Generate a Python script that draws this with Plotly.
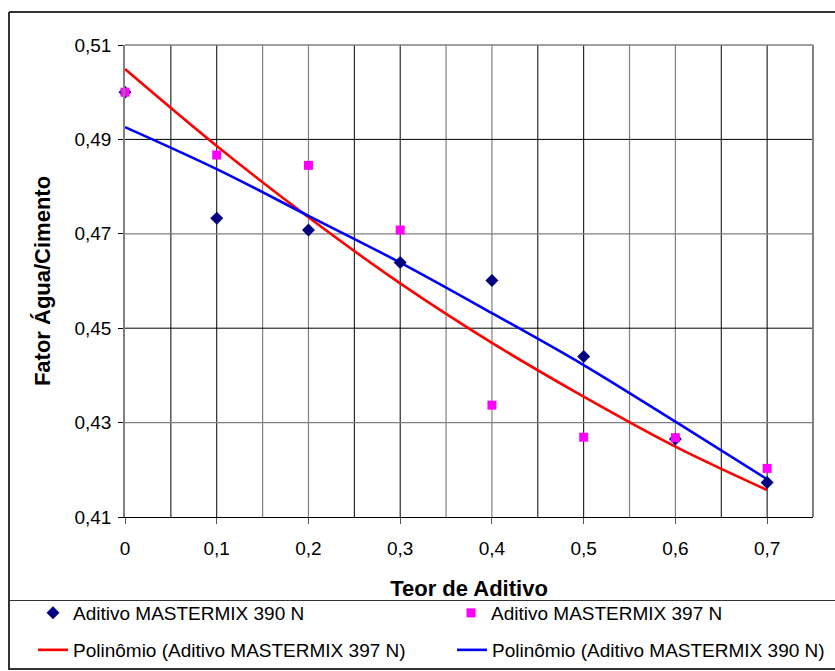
import plotly.graph_objects as go

# ---- data ----
teor = [0, 0.1, 0.2, 0.3, 0.4, 0.5, 0.6, 0.7]
fator_390 = [0.5000, 0.4733, 0.4708, 0.4639, 0.4601, 0.4440, 0.4265, 0.4173]
fator_397 = [0.5000, 0.4867, 0.4845, 0.4708, 0.4337, 0.4269, 0.4268, 0.4203]
# trendline values
poly_397 = [0.5049, 0.4886, 0.4735, 0.4595, 0.4469, 0.4355, 0.4249, 0.4157]
poly_390 = [0.4926, 0.4837, 0.4738, 0.4639, 0.4532, 0.4422, 0.4302, 0.4180]

x_tickvals = [0, 0.1, 0.2, 0.3, 0.4, 0.5, 0.6, 0.7]
x_ticktext = ["0", "0,1", "0,2", "0,3", "0,4", "0,5", "0,6", "0,7"]
y_tickvals = [0.41, 0.43, 0.45, 0.47, 0.49, 0.51]
y_ticktext = ["0,41", "0,43", "0,45", "0,47", "0,49", "0,51"]

grid_x_black = [0.05, 0.1, 0.25, 0.3, 0.45, 0.5, 0.65, 0.7]
grid_x_grey = [0.15, 0.2, 0.35, 0.4, 0.55, 0.6]
grid_y_black = [0.45, 0.49]
grid_y_grey = [0.43, 0.47]

name_390 = "Aditivo MASTERMIX 390 N"
name_397 = "Aditivo MASTERMIX 397 N"
name_p397 = "Polinômio (Aditivo MASTERMIX 397 N)"
name_p390 = "Polinômio (Aditivo MASTERMIX 390 N)"

FONT = "Arial, 'Liberation Sans', sans-serif"
W, H = 835, 671
L, R, T, B = 125, 813, 45, 517

def px(xp):
    return (xp - L) / (R - L)

def py(yp):
    return (B - yp) / (B - T)

fig = go.Figure()

fig.add_trace(go.Scatter(x=teor, y=poly_397, mode="lines", name=name_p397,
                         line=dict(color="#FF0000", width=2.6, shape="spline"),
                         legend="legend3"))
fig.add_trace(go.Scatter(x=teor, y=poly_390, mode="lines", name=name_p390,
                         line=dict(color="#0000FF", width=2.6, shape="spline"),
                         legend="legend4"))
fig.add_trace(go.Scatter(x=teor, y=fator_390, mode="markers", name=name_390,
                         marker=dict(symbol="diamond", color="#000080", size=10),
                         cliponaxis=False, legend="legend"))
fig.add_trace(go.Scatter(x=teor, y=fator_397, mode="markers", name=name_397,
                         marker=dict(symbol="square", color="#FF00FF", size=9),
                         cliponaxis=False, legend="legend2"))

shapes = []
for gx in grid_x_black:
    shapes.append(dict(type="line", xref="x", yref="paper", x0=gx, x1=gx, y0=0, y1=1,
                       line=dict(color="#000000", width=1), layer="below"))
for gx in grid_x_grey:
    shapes.append(dict(type="line", xref="x", yref="paper", x0=gx, x1=gx, y0=0, y1=1,
                       line=dict(color="#808080", width=1.2), layer="below"))
for gy in grid_y_black:
    shapes.append(dict(type="line", xref="paper", yref="y", x0=0, x1=1, y0=gy, y1=gy,
                       line=dict(color="#000000", width=1), layer="below"))
for gy in grid_y_grey:
    shapes.append(dict(type="line", xref="paper", yref="y", x0=0, x1=1, y0=gy, y1=gy,
                       line=dict(color="#808080", width=1.2), layer="below"))
# plot-area top and right edges (grey)
shapes.append(dict(type="line", xref="paper", yref="paper", x0=0, x1=1, y0=1, y1=1,
                   line=dict(color="#808080", width=1.5), layer="below"))
shapes.append(dict(type="line", xref="paper", yref="paper", x0=1, x1=1, y0=0, y1=1,
                   line=dict(color="#808080", width=2), layer="below"))

# outer chart frame and legend separator
shapes.append(dict(type="line", xref="paper", yref="paper", x0=px(9), x1=px(836), y0=py(12), y1=py(12),
                   line=dict(color="#333333", width=2)))
shapes.append(dict(type="line", xref="paper", yref="paper", x0=px(9), x1=px(9), y0=py(12), y1=py(670),
                   line=dict(color="#333333", width=2)))
shapes.append(dict(type="line", xref="paper", yref="paper", x0=px(9), x1=px(836), y0=py(669), y1=py(669),
                   line=dict(color="#333333", width=2)))
shapes.append(dict(type="line", xref="paper", yref="paper", x0=px(9), x1=px(836), y0=py(600.5), y1=py(600.5),
                   line=dict(color="#333333", width=1.2)))

def leg(xp, yp):
    return dict(orientation="h", x=px(xp), y=py(yp), xanchor="left", yanchor="middle",
                font=dict(size=19, family=FONT), bgcolor="rgba(0,0,0,0)",
                itemwidth=30, borderwidth=0)

fig.update_layout(
    width=W, height=H,
    margin=dict(l=L, r=W - R, t=T, b=H - B, autoexpand=False),
    paper_bgcolor="white", plot_bgcolor="white",
    font=dict(family=FONT, color="#000000"),
    shapes=shapes,
    xaxis=dict(range=[0, 0.75], tickvals=x_tickvals, ticktext=x_ticktext,
               showgrid=False, zeroline=False, showline=True, linecolor="#000000", linewidth=1,
               ticks="outside", ticklen=6, tickcolor="#555555", tickwidth=1,
               tickfont=dict(size=19, family=FONT), ticklabelstandoff=8,
               title=dict(text="<b>Teor de Aditivo</b>", font=dict(size=22, family=FONT), standoff=22)),
    yaxis=dict(range=[0.41, 0.51], tickvals=y_tickvals, ticktext=y_ticktext,
               showgrid=False, zeroline=False, showline=True, linecolor="#808080", linewidth=1.5,
               ticks="outside", ticklen=5, tickcolor="#000000", tickwidth=1,
               tickfont=dict(size=19, family=FONT), ticklabelstandoff=3,
               title=dict(text="<b>Fator Água/Cimento</b>", font=dict(size=22, family=FONT), standoff=18)),
    legend=leg(33, 613),
    legend2=leg(451, 613),
    legend3=leg(33, 650),
    legend4=leg(452, 650),
    showlegend=True,
)

fig.write_html("out.html")
